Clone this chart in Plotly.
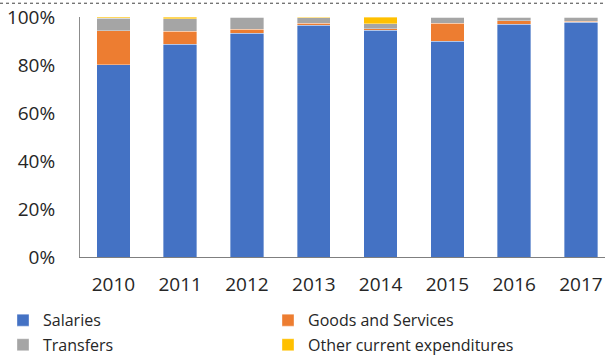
import plotly.graph_objects as go

years = ["2010", "2011", "2012", "2013", "2014", "2015", "2016", "2017"]
salaries = [80.2, 88.7, 93.2, 96.5, 94.5, 90.0, 96.9, 97.9]
goods_services = [14.0, 5.4, 1.8, 0.9, 0.7, 7.5, 1.6, 0.4]
transfers = [5.3, 5.1, 4.8, 2.2, 2.0, 2.5, 1.5, 1.7]
other_current = [0.5, 0.8, 0.2, 0.4, 2.8, 0.0, 0.0, 0.0]

# (name, values, colour, legend id, legend left px, legend top px)
series = [
    ("Salaries", salaries, "#4472C4", "legend", 3, 308),
    ("Goods and Services", goods_services, "#ED7D31", "legend2", 268, 308),
    ("Transfers", transfers, "#A5A5A5", "legend3", 3, 333),
    ("Other current expenditures", other_current, "#FFC000", "legend4", 268, 333),
]

W, H = 605, 362
L, R, T, B = 80, 0, 17, 101
plot_w = W - L - R
plot_h = H - T - B
font_family = "Open Sans, Noto Sans, sans-serif"
legend_font = dict(size=16, color="#262626", family=font_family)

fig = go.Figure()
legends = {}
for name, vals, color, leg, lx, ly in series:
    fig.add_trace(go.Bar(
        x=years, y=vals, name=name, legend=leg,
        marker=dict(color=color, line=dict(color="rgba(255,255,255,0.6)", width=0.6)),
    ))
    legends[leg] = dict(
        orientation="v", x=(lx - L) / plot_w, xanchor="left",
        y=-(ly - (H - B)) / plot_h, yanchor="top",
        font=legend_font, bgcolor="rgba(0,0,0,0)",
    )

fig.update_layout(
    barmode="stack",
    bargap=0.5,
    width=W, height=H,
    margin=dict(l=L, r=R, t=T, b=B),
    paper_bgcolor="white", plot_bgcolor="white",
    font=dict(family=font_family, size=19, color="#262626"),
    showlegend=True,
    **legends,
    xaxis=dict(
        range=[-0.5, 7.36], showgrid=False, showline=True, linecolor="#7f7f7f",
        linewidth=1, ticks="", ticklabelstandoff=10, fixedrange=True,
    ),
    yaxis=dict(
        range=[0, 100], dtick=20, ticksuffix="%", showgrid=False, zeroline=False,
        showline=True, linecolor="#8c8c8c", linewidth=1, ticks="",
        ticklabelstandoff=20, fixedrange=True,
    ),
    shapes=[dict(
        type="line", xref="paper", yref="paper",
        x0=-L / plot_w, x1=1, y0=1 + 14 / plot_h, y1=1 + 14 / plot_h,
        line=dict(color="#404040", width=1, dash="dot"),
    )],
)

fig.write_html("out.html")
